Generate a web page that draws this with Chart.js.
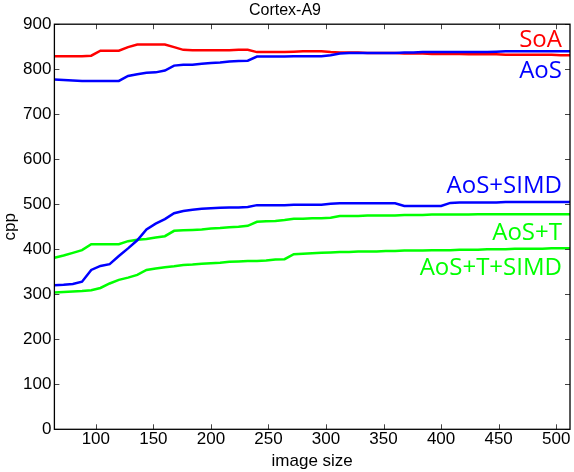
<!DOCTYPE html>
<html lang="en">
<head>
    <meta charset="UTF-8">
    <title>Cortex-A9</title>
    <script src="https://cdn.jsdelivr.net/npm/chart.js"></script>
    <style>
        body { margin: 0; background: #fff; }
    </style>
</head>
<body>
    <canvas id="cppChart" width="574" height="472"></canvas>

    <script>
        // image sizes sampled on the x axis
        const imageSizes = [64, 72, 80, 88, 96, 104, 112, 120, 128, 136,
            144, 152, 160, 168, 176, 184, 192, 200, 208, 216,
            224, 232, 240, 248, 256, 264, 272, 280, 288, 296,
            304, 312, 320, 328, 336, 344, 352, 360, 368, 376,
            384, 392, 400, 408, 416, 424, 432, 440, 448, 456,
            464, 472, 480, 488, 496, 504, 512];

        const xTicks = [100, 150, 200, 250, 300, 350, 400, 450, 500];
        const yTicks = [0, 100, 200, 300, 400, 500, 600, 700, 800, 900];

        const soa = [829, 829, 829, 829, 830, 841, 841, 841, 849, 855,
            855, 855, 855, 849, 843, 842, 842, 842, 842, 842,
            843, 843, 838, 838, 838, 838, 839, 840, 840, 840,
            838, 837, 837, 837, 836, 836, 836, 836, 835, 835,
            835, 834, 834, 834, 834, 833, 833, 833, 833, 832,
            832, 832, 832, 832, 832, 831, 831];

        const aos = [777, 776, 775, 774, 774, 774, 774, 774, 785, 789,
            792, 793, 797, 808, 810, 810, 812, 814, 815, 817,
            818, 819, 828, 828, 828, 828, 829, 829, 829, 829,
            831, 835, 836, 836, 836, 836, 836, 836, 837, 837,
            838, 838, 838, 838, 838, 838, 838, 838, 839, 840,
            840, 840, 840, 840, 840, 840, 840];

        const aosSimd = [320, 321, 323, 328, 354, 363, 367, 385, 402, 420,
            444, 457, 467, 480, 485, 488, 490, 491, 492, 493,
            493, 494, 498, 498, 498, 498, 499, 499, 499, 499,
            501, 502, 502, 502, 502, 502, 502, 502, 496, 496,
            496, 496, 496, 503, 504, 504, 504, 504, 504, 505,
            505, 505, 505, 505, 505, 505, 505];

        const aosT = [381, 386, 392, 398, 411, 411, 411, 411, 418, 421,
            423, 426, 429, 441, 442, 443, 444, 446, 447, 449,
            450, 452, 461, 462, 463, 465, 468, 468, 469, 469,
            470, 474, 474, 474, 475, 475, 475, 475, 476, 476,
            476, 477, 477, 477, 477, 477, 478, 478, 478, 478,
            478, 478, 478, 478, 478, 478, 478];

        const aosTSimd = [304, 305, 306, 307, 309, 314, 324, 332, 337, 343,
            354, 357, 360, 362, 365, 366, 368, 369, 370, 372,
            373, 374, 374, 375, 377, 378, 389, 390, 391, 392,
            393, 394, 394, 395, 395, 395, 396, 396, 397, 397,
            397, 398, 398, 398, 399, 399, 399, 400, 400, 400,
            401, 401, 401, 401, 402, 402, 402];

        // text labels placed at the right end of each curve (data coords)
        const labelNames = ['SoA', 'AoS', 'AoS+SIMD', 'AoS+T', 'AoS+T+SIMD'];
        const labelColors = ['#ff0000', '#0000ff', '#0000ff', '#00ff00', '#00ff00'];
        const labelY = [849, 780, 525, 420, 343];
        const labelX = 505;

        const toPoints = vals => vals.map((v, i) => ({ x: imageSizes[i], y: v }));

        // frame, inward ticks on all sides, and the curve labels
        const decorations = {
            id: 'decorations',
            afterDraw(chart) {
                const ctx = chart.ctx;
                const a = chart.chartArea;
                const xs = chart.scales.x;
                const ys = chart.scales.y;
                ctx.save();
                ctx.strokeStyle = '#444';
                ctx.lineWidth = 1;
                ctx.beginPath();
                xs.ticks.forEach(t => {
                    const px = Math.round(xs.getPixelForValue(t.value)) + 0.5;
                    ctx.moveTo(px, a.bottom); ctx.lineTo(px, a.bottom - 5);
                    ctx.moveTo(px, a.top); ctx.lineTo(px, a.top + 5);
                });
                ys.ticks.forEach(t => {
                    const py = Math.round(ys.getPixelForValue(t.value)) + 0.5;
                    ctx.moveTo(a.left, py); ctx.lineTo(a.left + 5, py);
                    ctx.moveTo(a.right, py); ctx.lineTo(a.right - 5, py);
                });
                ctx.stroke();

                ctx.strokeStyle = '#000';
                ctx.lineWidth = 1.3;
                ctx.strokeRect(a.left, a.top, a.right - a.left, a.bottom - a.top);

                ctx.font = '24px "Open Sans"';
                ctx.textAlign = 'right';
                ctx.textBaseline = 'alphabetic';
                labelNames.forEach((name, i) => {
                    ctx.fillStyle = labelColors[i];
                    ctx.fillText(name, xs.getPixelForValue(labelX), ys.getPixelForValue(labelY[i]));
                });
                ctx.restore();
            }
        };

        const ctx = document.getElementById('cppChart').getContext('2d');
        new Chart(ctx, {
            type: 'line',
            data: {
                datasets: [
                    { label: 'AoS', data: toPoints(aos), borderColor: '#0000ff' },
                    { label: 'SoA', data: toPoints(soa), borderColor: '#ff0000' },
                    { label: 'AoS+SIMD', data: toPoints(aosSimd), borderColor: '#0000ff' },
                    { label: 'AoS+T', data: toPoints(aosT), borderColor: '#00ff00' },
                    { label: 'AoS+T+SIMD', data: toPoints(aosTSimd), borderColor: '#00ff00' }
                ]
            },
            options: {
                responsive: false,
                animation: false,
                layout: { padding: { left: 0, right: 4, top: 0, bottom: 0 } },
                elements: {
                    line: { borderWidth: 2.5, tension: 0, fill: false },
                    point: { radius: 0 }
                },
                plugins: {
                    legend: { display: false },
                    tooltip: { enabled: false },
                    title: {
                        display: true,
                        text: 'Cortex-A9',
                        color: '#000',
                        font: { family: 'Liberation Sans', size: 16, weight: 'normal', lineHeight: 1.2 },
                        padding: { top: 1, bottom: 4 }
                    }
                },
                scales: {
                    x: {
                        type: 'linear',
                        min: 64,
                        max: 512,
                        grid: { display: false, drawTicks: false },
                        border: { display: false },
                        afterBuildTicks: scale => { scale.ticks = xTicks.map(v => ({ value: v })); },
                        ticks: {
                            padding: 0,
                            color: '#000',
                            maxRotation: 0,
                            autoSkip: false,
                            font: { family: 'Liberation Sans', size: 17 }
                        },
                        title: {
                            display: true,
                            text: 'image size',
                            color: '#000',
                            padding: 0,
                            font: { family: 'Liberation Sans', size: 17 }
                        },
                        afterFit: scale => { scale.height = 42.7; }
                    },
                    y: {
                        min: 0,
                        max: 900,
                        grid: { display: false, drawTicks: false },
                        border: { display: false },
                        afterBuildTicks: scale => { scale.ticks = yTicks.map(v => ({ value: v })); },
                        ticks: {
                            padding: 3,
                            color: '#000',
                            autoSkip: false,
                            font: { family: 'Liberation Sans', size: 17 }
                        },
                        title: {
                            display: true,
                            text: 'cpp',
                            color: '#000',
                            padding: 0,
                            font: { family: 'Liberation Sans', size: 17 }
                        },
                        afterFit: scale => { scale.width = 54.4; }
                    }
                }
            },
            plugins: [decorations]
        });
    </script>
</body>
</html>
